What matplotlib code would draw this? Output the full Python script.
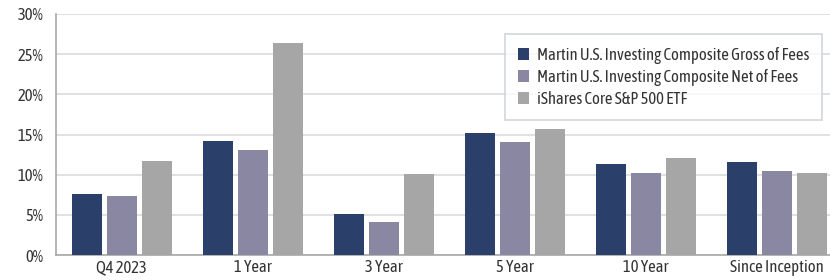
import matplotlib
matplotlib.use("Agg")
import matplotlib.pyplot as plt
import numpy as np
from matplotlib import font_manager

categories = ["Q4 2023", "1 Year", "3 Year", "5 Year", "10 Year", "Since Inception"]
gross = [7.6, 14.2, 5.1, 15.2, 11.3, 11.6]
net = [7.35, 13.1, 4.1, 14.1, 10.2, 10.5]
ishares = [11.7, 26.4, 10.1, 15.7, 12.1, 10.2]
series_names = ["Martin U.S. Investing Composite Gross of Fees",
                "Martin U.S. Investing Composite Net of Fees",
                "iShares Core S&P 500 ETF"]
yticks = [0, 5, 10, 15, 20, 25, 30]

names = {f.name for f in font_manager.fontManager.ttflist}
fs = 12
fam = None
for cand in ["Asap Condensed", "Fira Sans Condensed", "IBM Plex Sans Condensed", "Archivo Narrow", "Liberation Sans Narrow"]:
    if cand in names:
        fam = cand
        break
if fam is None:
    fam = "DejaVu Sans"
    fs = 9.5
plt.rcParams['font.family'] = [fam, 'DejaVu Sans']

colors = ["#2b3f6b", "#8a87a3", "#a6a6a6"]
W, H = 830, 280
fig = plt.figure(figsize=(W/100, H/100), dpi=100)
ax = fig.add_axes([56/W, 25/H, 786/W, 241/H])

x = np.arange(len(categories))
bw = 30/131
step = 35/131
for i, (vals, c, n) in enumerate(zip([gross, net, ishares], colors, series_names)):
    ax.bar(x + (i-1)*step, vals, width=bw, color=c, label=n, zorder=3)

ax.set_xlim(-0.5, len(categories)-0.5)
ax.set_ylim(0, 30)
ax.set_yticks(yticks)
ax.set_yticklabels([f"{v}%" for v in yticks])
ax.set_xticks(x)
ax.set_xticklabels(categories)
ax.yaxis.grid(True, color="#d9dcde", linewidth=1.2, zorder=0)
ax.tick_params(axis='both', length=0, labelsize=fs, colors="#333333")
ax.tick_params(axis='y', pad=9)
ax.tick_params(axis='x', pad=3)
for s in ["top", "right"]:
    ax.spines[s].set_visible(False)
ax.spines["left"].set_color("#a8a8a8")
ax.spines["left"].set_linewidth(1.2)
ax.spines["bottom"].set_color("#a8a8a8")
ax.spines["bottom"].set_linewidth(1.2)

leg = ax.legend(loc="upper left", bbox_to_anchor=((505-56)/786, (255-34)/241),
                fontsize=fs, frameon=True, fancybox=False, handlelength=0.7,
                handleheight=0.7, handletextpad=0.45, labelspacing=0.3,
                borderpad=0.75, borderaxespad=0, labelcolor="#333333")
leg.get_frame().set_edgecolor("#c8ccd0")
leg.get_frame().set_linewidth(1.2)

fig.savefig("out.png", dpi=100)
